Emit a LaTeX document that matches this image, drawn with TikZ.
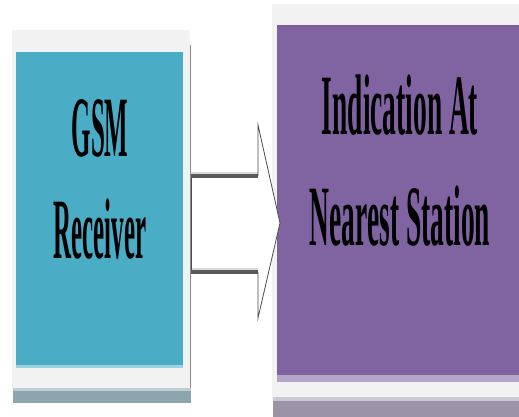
\documentclass[tikz,border=0pt]{standalone}
\usepackage{fontspec}
\setmainfont{Liberation Serif}
\definecolor{frameC}{HTML}{F2F2F2}
\definecolor{blueC}{HTML}{4BACC6}
\definecolor{blueL}{HTML}{9FD2E0}
\definecolor{purpC}{HTML}{8064A2}
\definecolor{purpL}{HTML}{B4A4CA}
\definecolor{bandL}{HTML}{8CA5AE}
\definecolor{bandR}{HTML}{9B94A8}
\definecolor{shaftC}{HTML}{595959}
\tikzset{
  lbl/.style={anchor=base, inner sep=0pt, font=\fontsize{86}{86}\selectfont\bfseries, xscale=0.29, text=black},
  arrowedge/.style={draw=shaftC, line width=3.2pt, line cap=butt},
  arrowthin/.style={draw=black!70, line width=0.8pt}
}
\begin{document}
\begin{tikzpicture}[x=1pt,y=-1pt]
\useasboundingbox (0,0) rectangle (519,417);
\fill[white] (0,0) rectangle (519,417);
% left box
\fill[frameC] (12,30) rectangle (190,390);
\draw[black!45, line width=0.8pt] (190.5,45) -- (190.5,390);
\fill[blueL] (16,52) rectangle (183,368);
\fill[blueC] (16,52) rectangle (183,365);
\fill[bandL!55] (13,388) rectangle (191,391);
\fill[bandL] (13,391) rectangle (191,403);
% right box
\fill[frameC] (272,4) rectangle (519,400);
\fill[purpL] (277,25) rectangle (519,382);
\fill[purpC!95!black] (277,25) rectangle (519,27);
\fill[purpC] (277,27) rectangle (519,375);
\fill[bandR!50] (273,397) rectangle (519,401);
\fill[bandR] (273,401) rectangle (519,417);
% labels
\node[lbl] (gsm) at (100,157) {GSM};
\node[lbl] (rcv) at (100,258) {Receiver};
\node[lbl, xscale=1.1] (ind) at (400,135) {Indication At};
\node[lbl, xscale=1.1] (nst) at (400,245) {Nearest Station};
% block arrow
\coordinate (s1) at (191,176);
\coordinate (s2) at (258,176);
\coordinate (h1) at (258,125);
\coordinate (tip) at (280,223);
\coordinate (h2) at (258,318);
\coordinate (s3) at (258,272);
\coordinate (s4) at (191,272);
\fill[white] (s1) -- (s2) -- (h1) -- (tip) -- (h2) -- (s3) -- (s4) -- cycle;
\draw[black!15, line width=2pt] ([yshift=3pt]s1) -- ([yshift=3pt]s2);
\draw[black!15, line width=2pt] ([yshift=3pt]s4) -- ([yshift=3pt]s3);
\draw[arrowthin] (s2) -- (h1) -- (tip) -- (h2) -- (s3);
\draw[arrowthin] (s1) -- (s4);
\draw[arrowedge] (s1) -- (s2);
\draw[arrowedge] (s4) -- (s3);
\end{tikzpicture}
\end{document}
